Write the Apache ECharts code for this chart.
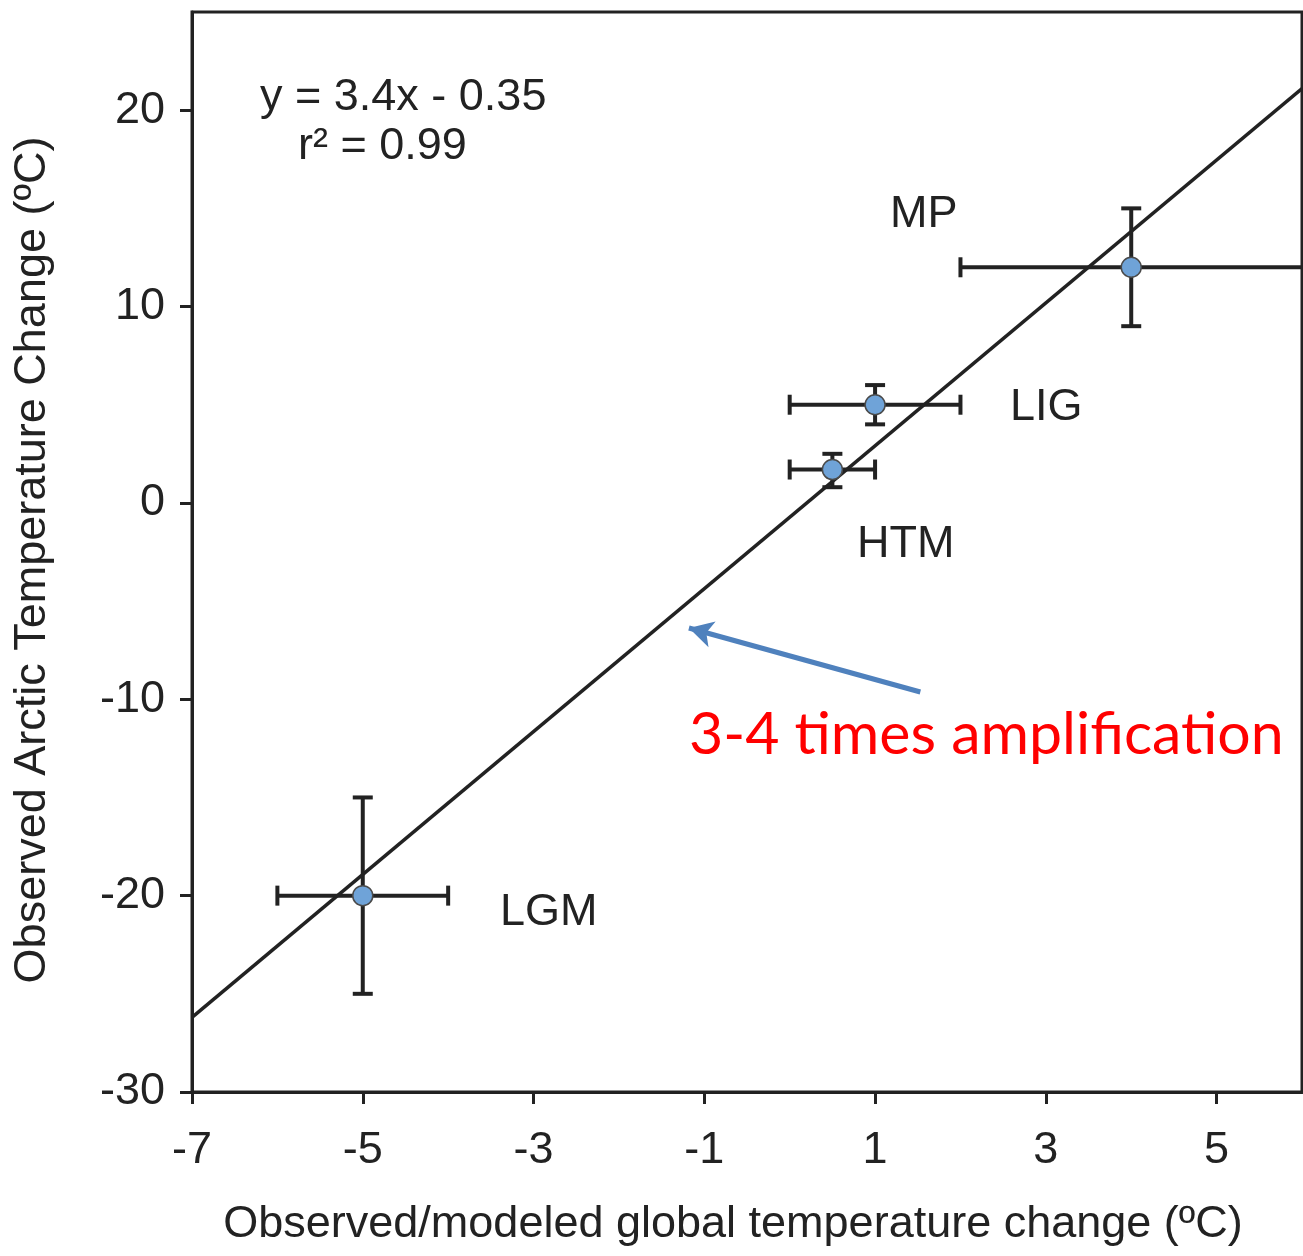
<!DOCTYPE html>
<html>
<head>
<meta charset="utf-8">
<script src="https://cdn.jsdelivr.net/npm/echarts@6/dist/echarts.min.js"></script>
<style>
  html, body { margin: 0; padding: 0; background: #fff; }
  #chart { width: 1303px; height: 1256px; }
</style>
</head>
<body>
<div id="chart"></div>
<script>
// periods
const periods = ['LGM', 'HTM', 'LIG', 'MP'];
const globalT = [-5, 0.5, 1, 4];
const arcticT = [-20, 1.7, 5, 12];
const globalLo = [-6, 0, 0, 2];
const globalHi = [-4, 1, 2, 7];   // MP bar runs off the right edge
const arcticLo = [-25, 0.8, 4, 9];
const arcticHi = [-15, 2.5, 6, 15];

// regression line as drawn (endpoints at plot edges)
const fitX = [-7, 6];
const fitY = [-26.2, 21.1];

const xTicks = [-7, -5, -3, -1, 1, 3, 5];
const yTicks = [-30, -20, -10, 0, 10, 20];

// arrow pointing at the line
const arrowFrom = [1.53, -9.63];
const arrowTo = [-1.18, -6.37];

const FONT = "'Liberation Sans', Arial, sans-serif";
const INK = '#222';

const chart = echarts.init(document.getElementById('chart'));

const errData = periods.map((p, i) => [globalT[i], arcticT[i], globalLo[i], globalHi[i], arcticLo[i], arcticHi[i]]);

function renderErr(params, api) {
  const x = api.value(0), y = api.value(1);
  const cs = params.coordSys;
  const right = cs.x + cs.width;
  const c = api.coord([x, y]);
  const xl = api.coord([api.value(2), y])[0];
  const xhRaw = api.coord([api.value(3), y])[0];
  const yl = api.coord([x, api.value(4)])[1];
  const yh = api.coord([x, api.value(5)])[1];
  const xh = Math.min(xhRaw, right);
  const cap = 10;
  const st = { stroke: INK, lineWidth: 4 };
  const seg = (x1, y1, x2, y2) => ({ type: 'line', shape: { x1, y1, x2, y2 }, style: st });
  const kids = [
    seg(xl, c[1], xh, c[1]),
    seg(xl, c[1] - cap, xl, c[1] + cap),
    seg(c[0], yl, c[0], yh),
    seg(c[0] - cap, yl, c[0] + cap, yl),
    seg(c[0] - cap, yh, c[0] + cap, yh)
  ];
  if (xhRaw <= right) kids.push(seg(xh, c[1] - cap, xh, c[1] + cap));
  return { type: 'group', children: kids };
}

const txt = (text, x, y, size, extra) => ({
  type: 'text',
  style: Object.assign({ text, x, y, font: size + 'px ' + FONT, fill: INK, textVerticalAlign: 'middle' }, extra || {})
});

const option = {
  animation: false,
  backgroundColor: '#fff',
  grid: {
    left: 192, right: 1, top: 12, bottom: 164,
    show: true, borderColor: INK, borderWidth: 3, backgroundColor: 'transparent'
  },
  xAxis: {
    type: 'value',
    min: -7, max: 6, interval: 2,
    name: 'Observed/modeled global temperature change (ºC)',
    nameLocation: 'middle',
    nameGap: 110,
    nameTextStyle: { fontFamily: FONT, fontSize: 45, color: INK, padding: [0, 28, 0, 0] },
    axisLine: { onZero: false, lineStyle: { color: INK, width: 3 } },
    axisTick: { show: true, length: 12, lineStyle: { color: INK, width: 3 }, customValues: xTicks },
    axisLabel: { fontFamily: FONT, fontSize: 45, color: INK, margin: 36, customValues: xTicks },
    splitLine: { show: false }
  },
  yAxis: {
    type: 'value',
    min: -30, max: 25, interval: 10,
    name: 'Observed Arctic Temperature Change (ºC)',
    nameLocation: 'middle',
    nameGap: 137,
    nameTextStyle: { fontFamily: FONT, fontSize: 45, color: INK, padding: [0, 16, 0, 0] },
    axisLine: { onZero: false, lineStyle: { color: INK, width: 3 } },
    axisTick: { show: true, length: 12, lineStyle: { color: INK, width: 3 }, customValues: yTicks },
    axisLabel: { fontFamily: FONT, fontSize: 45, color: INK, margin: 27, customValues: yTicks },
    splitLine: { show: false }
  },
  series: [
    {
      name: 'fit',
      type: 'line',
      data: fitX.map((x, i) => [x, fitY[i]]),
      symbol: 'none',
      lineStyle: { color: INK, width: 3.5 },
      z: 2,
      markLine: {
        silent: true,
        symbol: ['none', 'arrow'],
        symbolSize: [20, 24],
        label: { show: false },
        lineStyle: { color: '#4f81bd', width: 5, type: 'solid' },
        data: [[{ coord: arrowFrom }, { coord: arrowTo }]]
      }
    },
    {
      name: 'errors',
      type: 'custom',
      data: errData,
      renderItem: renderErr,
      z: 3
    },
    {
      name: 'periods',
      type: 'scatter',
      data: globalT.map((x, i) => [x, arcticT[i]]),
      symbolSize: 20,
      itemStyle: { color: '#6fa3d8', borderColor: '#4a4a4a', borderWidth: 1.5, opacity: 1 },
      z: 4
    }
  ],
  graphic: [
    txt('y = 3.4x - 0.35', 260, 98, 45),
    txt('r² = 0.99', 298, 147, 45),
    txt('MP', 890, 215, 45),
    txt('LIG', 1010, 408, 45),
    txt('HTM', 857, 545, 45),
    txt('LGM', 500, 913, 45),
    {
      type: 'text',
      style: { text: '3-4 times amplification', x: 689, y: 735, font: "59px Lato, 'Open Sans', sans-serif", fill: '#ff0000', textVerticalAlign: 'middle' }
    }
  ]
};

chart.setOption(option);
window.addEventListener('resize', () => chart.resize());
</script>
</body>
</html>
